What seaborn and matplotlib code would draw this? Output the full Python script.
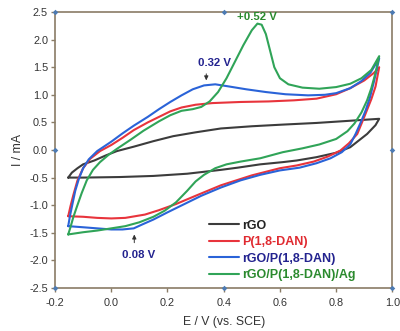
import numpy as np
import pandas as pd
import matplotlib
matplotlib.use("Agg")
import matplotlib.pyplot as plt
import seaborn as sns

# ---------------- data ----------------
samples = ["rGO", "P(1,8-DAN)", "rGO/P(1,8-DAN)", "rGO/P(1,8-DAN)/Ag"]

rgo_fwd_E = [-0.153, -0.14, -0.12, -0.10, -0.06, -0.02, 0.02, 0.08, 0.15, 0.22, 0.30, 0.39, 0.50, 0.61, 0.73, 0.85, 0.953]
rgo_fwd_I = [-0.50, -0.41, -0.33, -0.26, -0.19, -0.10, -0.02, 0.06, 0.16, 0.25, 0.32, 0.39, 0.43, 0.46, 0.49, 0.53, 0.565]
rgo_rev_E = [0.953, 0.94, 0.91, 0.87, 0.85, 0.80, 0.73, 0.66, 0.61, 0.53, 0.45, 0.39, 0.27, 0.15, 0.03, -0.10, -0.153]
rgo_rev_I = [0.565, 0.45, 0.29, 0.13, 0.05, -0.05, -0.13, -0.19, -0.22, -0.26, -0.32, -0.36, -0.43, -0.47, -0.49, -0.50, -0.50]

p_fwd_E = [-0.153, -0.145, -0.135, -0.12, -0.10, -0.075, -0.04, 0.0, 0.04, 0.08, 0.13, 0.17, 0.21, 0.25, 0.30, 0.36, 0.46, 0.56, 0.65, 0.73, 0.80, 0.85, 0.90, 0.935, 0.953]
p_fwd_I = [-1.20, -1.02, -0.82, -0.55, -0.33, -0.16, -0.02, 0.09, 0.22, 0.36, 0.50, 0.60, 0.70, 0.77, 0.82, 0.85, 0.87, 0.88, 0.90, 0.93, 1.01, 1.12, 1.26, 1.40, 1.50]
p_rev_E = [0.953, 0.94, 0.925, 0.90, 0.875, 0.845, 0.815, 0.77, 0.72, 0.66, 0.60, 0.50, 0.39, 0.30, 0.23, 0.17, 0.12, 0.05, 0.0, -0.05, -0.10, -0.153]
p_rev_I = [1.50, 1.15, 0.92, 0.60, 0.29, 0.12, -0.01, -0.12, -0.21, -0.28, -0.33, -0.46, -0.64, -0.83, -0.98, -1.09, -1.17, -1.23, -1.24, -1.23, -1.21, -1.20]

rp_fwd_E = [-0.153, -0.147, -0.138, -0.128, -0.115, -0.10, -0.08, -0.05, 0.0, 0.04, 0.08, 0.13, 0.17, 0.21, 0.25, 0.29, 0.33, 0.37, 0.42, 0.48, 0.55, 0.62, 0.70, 0.76, 0.80, 0.85, 0.89, 0.922, 0.953]
rp_fwd_I = [-1.38, -1.20, -0.98, -0.74, -0.52, -0.33, -0.17, -0.02, 0.15, 0.30, 0.44, 0.60, 0.74, 0.87, 0.99, 1.10, 1.17, 1.19, 1.15, 1.10, 1.05, 1.01, 0.99, 1.00, 1.03, 1.12, 1.25, 1.40, 1.66]
rp_rev_E = [0.953, 0.935, 0.92, 0.905, 0.89, 0.87, 0.85, 0.82, 0.78, 0.73, 0.67, 0.60, 0.53, 0.46, 0.39, 0.32, 0.26, 0.20, 0.15, 0.11, 0.08, 0.04, 0.0, -0.05, -0.10, -0.153]
rp_rev_I = [1.66, 1.25, 0.95, 0.72, 0.53, 0.30, 0.10, -0.04, -0.15, -0.24, -0.32, -0.37, -0.45, -0.55, -0.68, -0.83, -0.98, -1.13, -1.26, -1.35, -1.42, -1.44, -1.44, -1.42, -1.40, -1.38]

ag_fwd_E = [-0.153, -0.145, -0.135, -0.123, -0.105, -0.087, -0.065, -0.04, -0.01, 0.02, 0.07, 0.115, 0.17, 0.21, 0.25, 0.29, 0.32, 0.35, 0.38, 0.41, 0.44, 0.47, 0.50, 0.52, 0.535, 0.55, 0.565, 0.58, 0.60, 0.63, 0.68, 0.74, 0.80, 0.85, 0.89, 0.925, 0.953]
ag_fwd_I = [-1.53, -1.40, -1.22, -1.04, -0.78, -0.55, -0.36, -0.22, -0.09, 0.02, 0.19, 0.35, 0.52, 0.63, 0.71, 0.74, 0.78, 0.88, 1.05, 1.30, 1.60, 1.90, 2.17, 2.29, 2.27, 2.10, 1.80, 1.50, 1.30, 1.19, 1.13, 1.11, 1.14, 1.20, 1.30, 1.45, 1.70]
ag_rev_E = [0.953, 0.94, 0.925, 0.91, 0.89, 0.865, 0.84, 0.80, 0.74, 0.68, 0.61, 0.53, 0.46, 0.41, 0.37, 0.33, 0.30, 0.27, 0.23, 0.19, 0.15, 0.10, 0.05, 0.0, -0.05, -0.10, -0.153]
ag_rev_I = [1.70, 1.40, 1.12, 0.90, 0.68, 0.48, 0.34, 0.20, 0.10, 0.03, -0.04, -0.15, -0.21, -0.26, -0.33, -0.45, -0.57, -0.74, -0.95, -1.10, -1.21, -1.31, -1.38, -1.42, -1.46, -1.49, -1.53]

x_ticks = [-0.2, 0.0, 0.2, 0.4, 0.6, 0.8, 1.0]
y_ticks = [-2.5, -2.0, -1.5, -1.0, -0.5, 0.0, 0.5, 1.0, 1.5, 2.0, 2.5]

line_colors = ["#3c3c3c", "#e8343c", "#2a63d8", "#30a458"]
text_colors = ["#222222", "#e02a30", "#23238f", "#2b8a2e"]

# ---------------- build table ----------------
curves = [
    (rgo_fwd_E + rgo_rev_E, rgo_fwd_I + rgo_rev_I),
    (p_fwd_E + p_rev_E, p_fwd_I + p_rev_I),
    (rp_fwd_E + rp_rev_E, rp_fwd_I + rp_rev_I),
    (ag_fwd_E + ag_rev_E, ag_fwd_I + ag_rev_I),
]
frames = []
for name, (E, I) in zip(samples, curves):
    frames.append(pd.DataFrame({"E": E, "I": I, "sample": name, "order": range(len(E))}))
df = pd.concat(frames, ignore_index=True)

# ---------------- plot ----------------
sns.set_style("white")
plt.rcParams["font.family"] = ["Liberation Sans", "DejaVu Sans"]

fig = plt.figure(figsize=(4.0, 3.31), dpi=100)
ax = fig.add_axes([0.1375, 0.130, 0.981 - 0.1375, 0.9637 - 0.130])

sns.lineplot(data=df, x="E", y="I", hue="sample", hue_order=samples,
             palette=line_colors, sort=False, estimator=None, units="sample",
             linewidth=1.5, ax=ax, legend=False)

ax.set_xlim(-0.2, 1.0)
ax.set_ylim(-2.5, 2.5)
ax.set_xticks(x_ticks)
ax.set_yticks(y_ticks)
ax.set_xticklabels([f"{v:.1f}" for v in x_ticks])
ax.set_yticklabels([f"{v:.1f}" for v in y_ticks])

spine_col = "#8a7c66"
for s in ax.spines.values():
    s.set_color(spine_col)
    s.set_linewidth(1.2)
    s.set_visible(True)
ax.tick_params(axis="both", which="major", direction="out", length=3, width=1,
               color=spine_col, labelsize=7.8, labelcolor="#333333",
               bottom=True, left=True, top=False, right=False, pad=2)
ax.tick_params(axis="x", pad=4)

ax.set_xlabel("E / V (vs. SCE)", fontsize=8.8, color="#333333", labelpad=6)
ax.set_ylabel("I / mA", fontsize=8.8, color="#333333", labelpad=4)

# decorative Origin-style dots on spines
dots_x = [0, 0, 0, 0.5, 0.5, 1, 1, 1]
dots_y = [0, 0.5, 1, 0, 1, 0, 0.5, 1]
ax.scatter(dots_x, dots_y, transform=ax.transAxes, s=8, marker="D",
           color="#4d7bb3", clip_on=False, zorder=5, linewidths=0)

# legend
from matplotlib.lines import Line2D
handles = [Line2D([0], [0], color=c, lw=1.5) for c in line_colors]
leg = ax.legend(handles, samples, loc="upper left", bbox_to_anchor=(0.455, 0.248),
                frameon=False, borderpad=0, borderaxespad=0, handlelength=2.4,
                handletextpad=0.3, labelspacing=0.36,
                prop={"size": 9, "weight": "bold"})
for t, c in zip(leg.get_texts(), text_colors):
    t.set_color(c)

# annotations
ax.text(0.518, 2.41, "+0.52 V", color=text_colors[3], fontsize=8.2,
        fontweight="bold", ha="center", va="center", zorder=6)
ax.text(0.366, 1.57, "0.32 V", color=text_colors[2], fontsize=8.2,
        fontweight="bold", ha="center", va="center")
ax.annotate("", xy=(0.338, 1.21), xytext=(0.338, 1.43),
            arrowprops=dict(arrowstyle="-|>,head_length=0.25,head_width=0.12",
                            color="#333333", lw=0.7))
ax.text(0.096, -1.91, "0.08 V", color=text_colors[2], fontsize=8.2,
        fontweight="bold", ha="center", va="center")
ax.annotate("", xy=(0.082, -1.48), xytext=(0.082, -1.73),
            arrowprops=dict(arrowstyle="-|>,head_length=0.25,head_width=0.12",
                            color="#333333", lw=0.7))

fig.savefig("out.png", dpi=100)
